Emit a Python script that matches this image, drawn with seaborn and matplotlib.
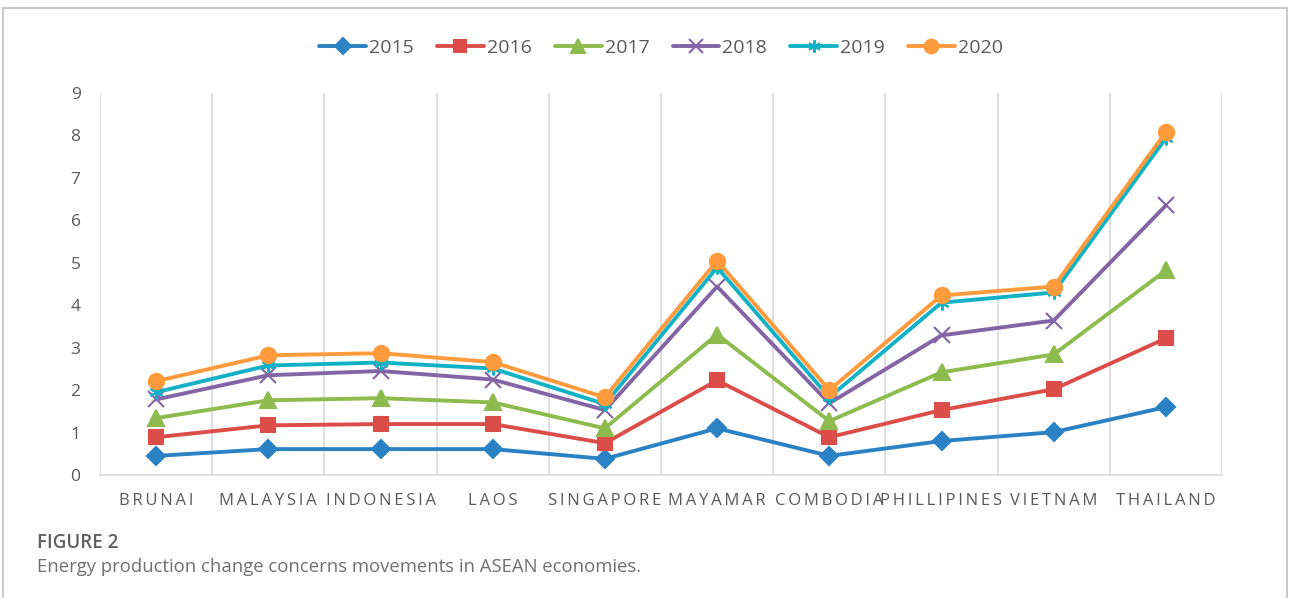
import pandas as pd
import numpy as np
import matplotlib
matplotlib.use("Agg")
import matplotlib.pyplot as plt
import seaborn as sns
from matplotlib.patches import Rectangle

# 데이터
countries = ['BRUNAI', 'MALAYSIA', 'INDONESIA', 'LAOS', 'SINGAPORE',
             'MAYAMAR', 'COMBODIA', 'PHILLIPINES', 'VIETNAM', 'THAILAND']
years = ['2015', '2016', '2017', '2018', '2019', '2020']
v2015 = [0.45, 0.61, 0.61, 0.61, 0.38, 1.10, 0.45, 0.80, 1.01, 1.60]
v2016 = [0.89, 1.17, 1.20, 1.20, 0.75, 2.23, 0.89, 1.53, 2.02, 3.22]
v2017 = [1.34, 1.76, 1.81, 1.71, 1.10, 3.31, 1.27, 2.42, 2.84, 4.82]
v2018 = [1.78, 2.35, 2.45, 2.25, 1.53, 4.44, 1.69, 3.29, 3.64, 6.35]
v2019 = [1.95, 2.58, 2.65, 2.51, 1.67, 4.89, 1.83, 4.06, 4.30, 7.94]
v2020 = [2.21, 2.82, 2.87, 2.66, 1.83, 5.05, 2.00, 4.23, 4.44, 8.08]

series = [v2015, v2016, v2017, v2018, v2019, v2020]
rows = []
for y, vals in zip(years, series):
    for c, v in zip(countries, vals):
        rows.append({'country': c, 'year': y, 'value': v})
df = pd.DataFrame(rows)

colors = ['#2A81C4', '#DC4D4A', '#8DBB4E', '#8365A5', '#12B2C6', '#FF9B3D']
marks = ['D', 's', '^', 'x', (6, 2, 0), 'o']
msizes = [9, 10, 11, 11, 10, 11]

sns.set_style('white')
plt.rcParams['font.family'] = ['Open Sans', 'DejaVu Sans']

fig = plt.figure(figsize=(12.9, 5.98), dpi=100)
ax = fig.add_axes([100 / 1290, 123 / 598, 1122 / 1290, 382 / 598])

# 마커 종류가 섞여 있어 연도별로 따로 그림
for y, col, m, ms in zip(years, colors, marks, msizes):
    sns.lineplot(data=df[df.year == y], x='country', y='value', color=col,
                 marker=m, markersize=ms, markeredgewidth=1.5, markeredgecolor=col,
                 linewidth=2.8, sort=False, label=y, ax=ax)

ax.set_xlim(-0.5, len(countries) - 0.5)
ax.set_ylim(0, 9)
ax.set_yticks(range(10))
ax.set_xticks(range(len(countries)))
ax.set_xticklabels(['\u2009'.join(c) for c in countries])
ax.set_xticks(np.arange(-0.5, len(countries), 1), minor=True)
ax.grid(which='minor', axis='x', color='#D9D9D9', linewidth=1.2)
ax.grid(which='major', axis='both', visible=False)
ax.tick_params(axis='x', which='both', length=0, pad=13, labelsize=12, labelcolor='#595959')
ax.tick_params(axis='y', length=0, pad=14, labelsize=12.5, labelcolor='#595959')
for s in ['top', 'right', 'left']:
    ax.spines[s].set_visible(False)
ax.spines['bottom'].set_color('#D9D9D9')
ax.spines['bottom'].set_linewidth(1.2)
ax.set_xlabel('')
ax.set_ylabel('')

leg = ax.legend(loc='center', bbox_to_anchor=(0.5, (550 / 598 - 123 / 598) / (382 / 598)),
                ncol=6, frameon=False, fontsize=14, handlelength=2.4,
                columnspacing=1.2, handletextpad=0.15, markerscale=0.9)
for t in leg.get_texts():
    t.set_color('#595959')

fig.text(37 / 1290, 1 - 543 / 598, 'FIGURE 2', fontsize=13.5, fontweight='semibold',
         color='#606060', va='center')
fig.text(37 / 1290, 1 - 567 / 598, 'Energy production change concerns movements in ASEAN economies.',
         fontsize=13.3, color='#707070', va='center')

fig.patches.append(Rectangle((3 / 1290, -0.05), 1284 / 1290, 1 - 8 / 598 + 0.05,
                             transform=fig.transFigure, fill=False,
                             edgecolor='#BFBFBF', linewidth=1.2))

fig.savefig('out.png', dpi=100)
